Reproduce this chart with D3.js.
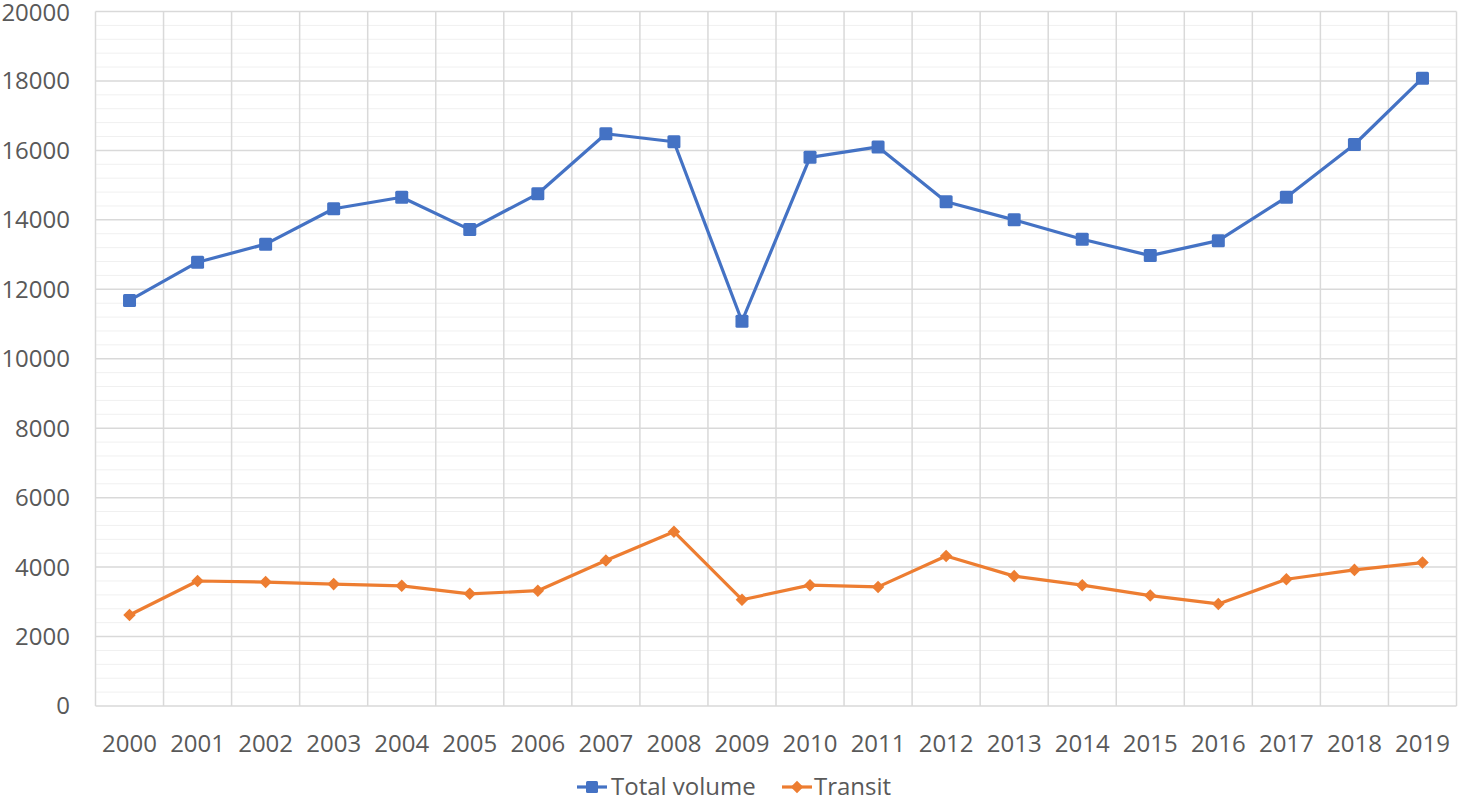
<html>
<head>
<meta charset="UTF-8">
<title>Total volume and transit</title>
<script src="https://cdn.jsdelivr.net/npm/d3@7"></script>
<style>
  body { margin:0; background:#fff; }
  text { font-family:"Open Sans","Noto Sans",sans-serif; fill:#595959; }
</style>
</head>
<body>
<svg id="chart" width="1459" height="800"></svg>
<script>
// data
var years = ["2000","2001","2002","2003","2004","2005","2006","2007","2008","2009",
             "2010","2011","2012","2013","2014","2015","2016","2017","2018","2019"];
var totalVolume = [11680,12780,13300,14320,14650,13720,14750,16480,16250,11080,
                   15800,16100,14520,14000,13440,12970,13400,14650,16170,18080];
var transit = [2620,3600,3570,3510,3460,3230,3320,4190,5020,3060,
               3480,3430,4320,3740,3480,3180,2940,3650,3920,4130];
var yTicks = [0,2000,4000,6000,8000,10000,12000,14000,16000,18000,20000];

var svg = d3.select("#chart");
var plotL = 95.5, plotR = 1456.5, plotT = 11.5, plotB = 706;

var x = d3.scaleBand().domain(years).range([plotL, plotR]).padding(0);
var y = d3.scaleLinear().domain([0, 20000]).range([plotB, plotT]);

// minor grid every 400
var g = svg.append("g");
g.selectAll("line.minor")
  .data(d3.range(400, 20000, 400).filter(function(v){ return v % 2000 != 0; }))
  .enter().append("line")
  .attr("x1", plotL).attr("x2", plotR)
  .attr("y1", function(d){ return y(d); }).attr("y2", function(d){ return y(d); })
  .attr("stroke", "#f0f0f0").attr("stroke-width", 1);

// major grid
g.selectAll("line.major")
  .data(yTicks)
  .enter().append("line")
  .attr("x1", plotL).attr("x2", plotR)
  .attr("y1", function(d){ return y(d); }).attr("y2", function(d){ return y(d); })
  .attr("stroke", "#d9d9d9").attr("stroke-width", 1.5);

// vertical category lines
var bounds = years.map(function(d){ return x(d); }).concat([plotR]);
g.selectAll("line.vert")
  .data(bounds)
  .enter().append("line")
  .attr("x1", function(d){ return d; }).attr("x2", function(d){ return d; })
  .attr("y1", plotT).attr("y2", plotB)
  .attr("stroke", "#d9d9d9").attr("stroke-width", 1.5);

// y axis labels
svg.append("g").selectAll("text")
  .data(yTicks)
  .enter().append("text")
  .attr("x", 70).attr("y", function(d){ return Math.max(y(d), 13); })
  .attr("dy", "0.35em")
  .attr("text-anchor", "end")
  .style("font-size", "24px")
  .text(function(d){ return d; });

// x axis labels
svg.append("g").selectAll("text")
  .data(years)
  .enter().append("text")
  .attr("x", function(d){ return x(d) + x.bandwidth()/2; })
  .attr("y", 752)
  .attr("text-anchor", "middle")
  .style("font-size", "24px")
  .text(function(d){ return d; });

var cx = function(d, i){ return x(years[i]) + x.bandwidth()/2; };
var line = d3.line().x(function(d, i){ return cx(d, i); }).y(function(d){ return y(d); });

var blue = "#4472C4", orange = "#ED7D31";

svg.append("path").datum(totalVolume)
  .attr("d", line).attr("fill", "none").attr("stroke", blue).attr("stroke-width", 3.2)
  .attr("stroke-linejoin", "round");
svg.append("g").selectAll("rect")
  .data(totalVolume)
  .enter().append("rect")
  .attr("x", function(d, i){ return cx(d, i) - 6.5; })
  .attr("y", function(d){ return y(d) - 6.5; })
  .attr("width", 13).attr("height", 13).attr("rx", 1.5)
  .attr("fill", blue);

svg.append("path").datum(transit)
  .attr("d", line).attr("fill", "none").attr("stroke", orange).attr("stroke-width", 3.2)
  .attr("stroke-linejoin", "round");
var diamond = d3.symbol().type(d3.symbolDiamond2).size(100);
svg.append("g").selectAll("path")
  .data(transit)
  .enter().append("path")
  .attr("d", diamond)
  .attr("transform", function(d, i){ return "translate(" + cx(d, i) + "," + y(d) + ")"; })
  .attr("fill", orange);

// legend
var ly = 787;
var leg = svg.append("g");
leg.append("line").attr("x1", 577).attr("x2", 607).attr("y1", ly).attr("y2", ly)
  .attr("stroke", blue).attr("stroke-width", 3.2);
leg.append("rect").attr("x", 586).attr("y", ly - 6).attr("width", 12).attr("height", 12).attr("rx", 1.5)
  .attr("fill", blue);
leg.append("text").attr("x", 611).attr("y", ly).attr("dy", "0.35em")
  .style("font-size", "24px").text("Total volume");
leg.append("line").attr("x1", 782).attr("x2", 812).attr("y1", ly).attr("y2", ly)
  .attr("stroke", orange).attr("stroke-width", 3.2);
leg.append("path").attr("d", diamond).attr("transform", "translate(797," + ly + ")").attr("fill", orange);
leg.append("text").attr("x", 814).attr("y", ly).attr("dy", "0.35em")
  .style("font-size", "24px").text("Transit");
</script>
</body>
</html>
